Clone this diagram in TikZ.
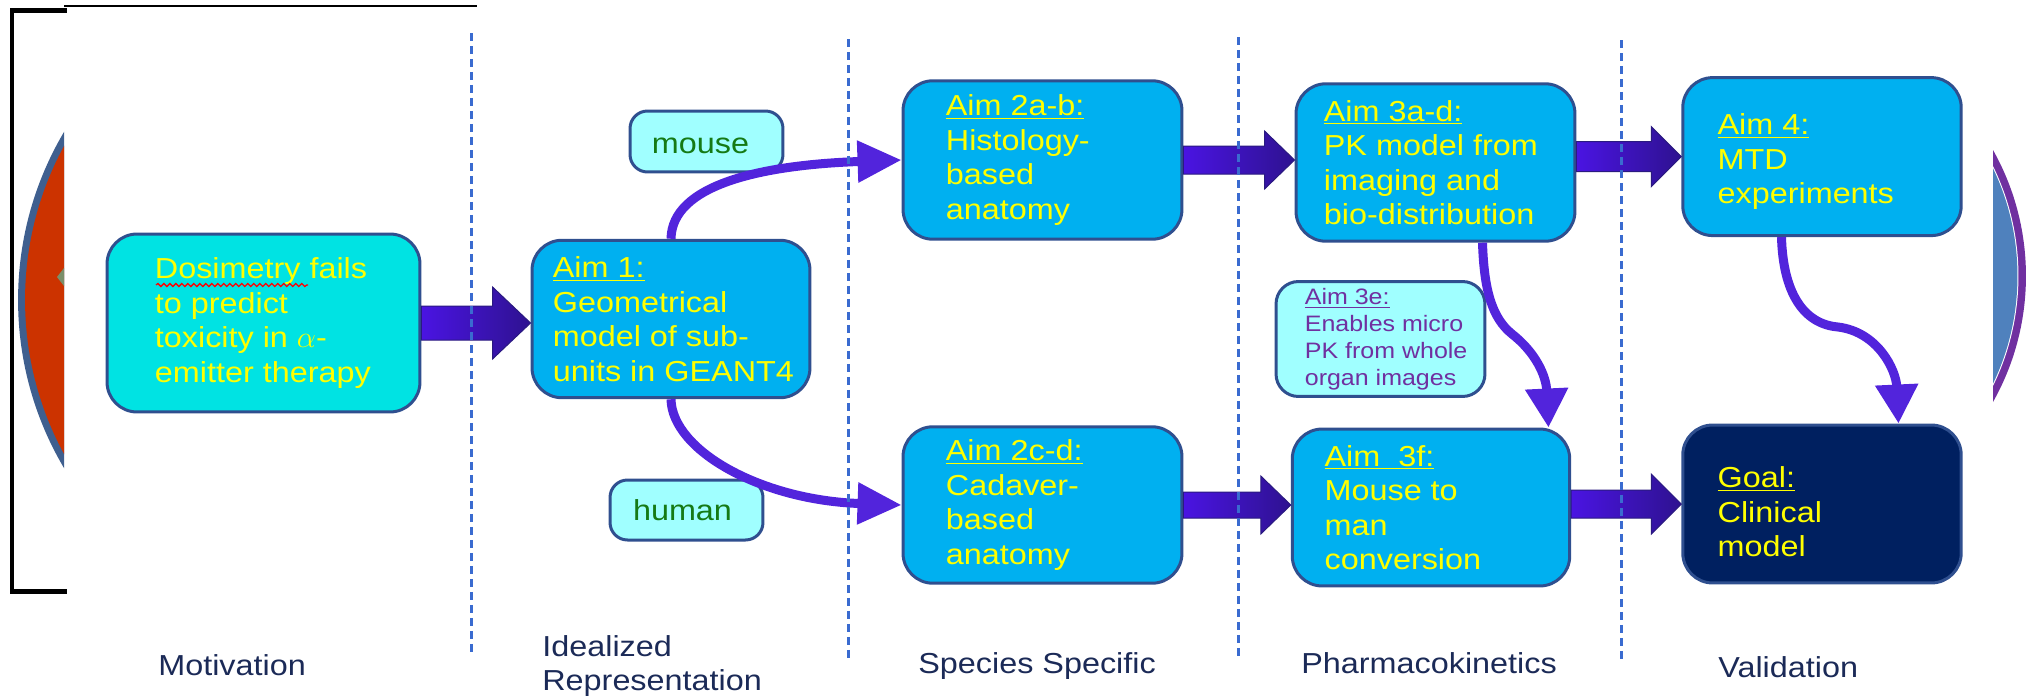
\documentclass[tikz,border=0pt]{standalone}
\usepackage{fontspec}
\setmainfont[FakeStretch=1.12]{Liberation Sans}
\usetikzlibrary{calc,arrows.meta,decorations.pathmorphing}
\definecolor{boxB}{HTML}{00B0F0}
\definecolor{boxD}{HTML}{2F4F8F}
\definecolor{motF}{HTML}{00E3E3}
\definecolor{lightF}{HTML}{A0FFFF}
\definecolor{goalF}{HTML}{002060}
\definecolor{txtY}{HTML}{FFFF00}
\definecolor{txtG}{HTML}{157A15}
\definecolor{txtP}{HTML}{7030A0}
\definecolor{navy}{HTML}{1B2A57}
\definecolor{arrL}{HTML}{4A14E2}
\definecolor{arrR}{HTML}{2E1290}
\definecolor{arrB}{HTML}{2A1A80}
\definecolor{arrC}{HTML}{5224DC}
\definecolor{dashC}{HTML}{3A6BD0}
\definecolor{redC}{HTML}{CC3300}
\definecolor{ringC}{HTML}{3F5F8F}
\definecolor{purC}{HTML}{7030A0}
\definecolor{blueC}{HTML}{4F81BD}
\definecolor{olive}{HTML}{7A8F6A}
\newcommand\blockarr[5]{%
  \shadedraw[left color=arrL,right color=arrR,draw=arrB,line width=0.02cm]
  ($(#1)+(0,#3)$) -- ($(#2)+(-#5,#3)$) -- ($(#2)+(-#5,#4)$) -- (#2) --
  ($(#2)+(-#5,-#4)$) -- ($(#2)+(-#5,-#3)$) -- ($(#1)+(0,-#3)$) -- cycle;}
\tikzset{
  aimbox/.style={draw=boxD, line width=0.06cm, fill=boxB, rounded corners=0.6cm, inner sep=0pt},
  motbox/.style={aimbox, fill=motF},
  goalbox/.style={aimbox, fill=goalF},
  lightbox/.style={draw=boxD, line width=0.06cm, fill=lightF, rounded corners=0.35cm, inner sep=0pt},
  txt/.style={text=txtY, align=left, inner sep=0pt, anchor=west,
    font=\fontsize{16.45pt}{19.64pt}\selectfont},
  smalltxt/.style={text=txtP, align=left, inner sep=0pt, anchor=west,
    font=\fontsize{12.7pt}{15.37pt}\selectfont},
  lab/.style={text=navy, inner sep=0pt, font=\fontsize{16.45pt}{19.64pt}\selectfont},
  sidelab/.style={text=txtG, font=\fontsize{16.45pt}{19.64pt}\selectfont},
  carr/.style={draw=arrC, line width=0.18cm, -{Triangle[length=0.88cm, width=0.8cm]}},
  varr/.style={draw=arrC, line width=0.18cm, -{Triangle[length=0.78cm, width=0.82cm]}},
  divider/.style={draw=dashC, line width=0.06cm, dash pattern=on 0.16cm off 0.1cm},
}
\begin{document}
\begin{tikzpicture}[x=0.02cm, y=-0.02cm]
\useasboundingbox (0,0) rectangle (2033,700);
% left circle fragment
\begin{scope}
  \clip (0,0) rectangle (64,700);
  \fill[ringC] (348,300) circle (6.6cm);
  \fill[redC] (348,300) circle (6.46cm);
  \fill[olive] (57,277) -- (64,268) -- (64,286) -- cycle;
\end{scope}
% right circle fragment
\begin{scope}
  \clip (1993,0) rectangle (2033,700);
  \fill[purC] (1769,276) circle (5.14cm);
  \fill[white] (1769,276) circle (4.99cm);
  \fill[blueC] (1769,276) circle (4.97cm);
\end{scope}
% bracket
\draw[line width=0.1cm, line cap=rect] (64,10) -- (12,10) -- (12,591) -- (64,591);
\draw[line width=0.04cm] (64,6) -- (477,6);

% boxes
\node[motbox, minimum width=6.26cm, minimum height=3.56cm] (mot) at (263.5,323) {};
\node[aimbox, minimum width=5.56cm, minimum height=3.15cm] (aim1) at (671,319) {};
\node[lightbox, minimum width=3.06cm, minimum height=1.22cm] (mouse) at (706.5,141.5) {};
\node[lightbox, minimum width=3.06cm, minimum height=1.2cm] (human) at (686.5,510) {};
\node[aimbox, minimum width=5.58cm, minimum height=3.17cm] (a2ab) at (1042.5,160) {};
\node[aimbox, minimum width=5.58cm, minimum height=3.13cm] (a2cd) at (1042.5,505) {};
\node[aimbox, minimum width=5.58cm, minimum height=3.15cm] (a3ad) at (1435.5,162.5) {};
\node[lightbox, rounded corners=0.45cm, minimum width=4.18cm, minimum height=2.3cm] (a3e) at (1380.5,339) {};
\node[aimbox, minimum width=5.55cm, minimum height=3.14cm] (a3f) at (1431,507.5) {};
\node[aimbox, minimum width=5.57cm, minimum height=3.16cm] (a4) at (1822,156.6) {};
\node[goalbox, minimum width=5.57cm, minimum height=3.16cm] (goal) at (1822,504) {};

% box texts
\node[txt] (motT) at ($(mot.west)+(49,0)$) {Dosimetry fails\\to predict\\toxicity in $\alpha$-\\emitter therapy};
\node[txt] (aim1T) at ($(aim1.west)+(22,0)$) {\underline{Aim 1:}\\Geometrical\\model of sub-\\units in GEANT4};
\node[txt] (a2abT) at ($(a2ab.west)+(44,0)$) {\underline{Aim 2a-b:}\\Histology-\\based\\anatomy};
\node[txt] (a2cdT) at ($(a2cd.west)+(44,0)$) {\underline{Aim 2c-d:}\\Cadaver-\\based\\anatomy};
\node[txt] (a3adT) at ($(a3ad.west)+(29,0)$) {\underline{Aim 3a-d:}\\PK model from\\imaging and\\bio-distribution};
\node[smalltxt] (a3eT) at ($(a3e.west)+(30,0)$) {\underline{Aim 3e:}\\Enables micro\\PK from whole\\organ images};
\node[txt] (a3fT) at ($(a3f.west)+(33.5,0)$) {\underline{Aim\ \ 3f:}\\Mouse to\\man\\conversion};
\node[txt] (a4T) at ($(a4.west)+(36,5)$) {\underline{Aim 4:}\\MTD\\experiments};
\node[txt] (goalT) at ($(goal.west)+(36,8)$) {\underline{Goal:}\\Clinical\\model};
\node[sidelab] (mouseT) at ($(mouse.center)+(-6,4)$) {mouse};
\node[sidelab] (humanT) at ($(human.center)+(-4,0)$) {human};

% spell-check squiggle
\draw[red, line width=0.025cm, decorate, decoration={snake, amplitude=0.03cm, segment length=0.12cm}] (156,285) -- (308,285);

% block arrows
\coordinate (e1) at (aim1.west |- mot.east);
\coordinate (e2) at (a3ad.west |- a2ab.east);
\coordinate (e3) at (a3ad.east |- a4.west);
\coordinate (e4) at (a3f.west |- a2cd.east);
\coordinate (e5) at (a3f.east |- goal.west);
\blockarr{mot.east}{e1}{17}{36}{38}
\blockarr{a2ab.east}{e2}{14}{29}{30}
\blockarr{e3}{a4.west}{15}{30}{30}
\blockarr{a2cd.east}{e4}{13}{29}{30}
\blockarr{e5}{goal.west}{14}{30}{30}

% curved arrows
\draw[carr] (aim1.north) .. controls (672,185) and (760,165) .. (a2ab.west);
\draw[carr] (aim1.south) .. controls (672,450) and (760,500) .. (a2cd.west);
\coordinate (c1) at ($(a3ad.south)+(47,0)$);
\coordinate (c2) at ($(a3f.north)+(117.5,0)$);
\draw[varr] (c1) .. controls (1484,290) and (1492,318) .. (1512,334)
               .. controls (1535,352) and (1546,375) .. (c2);
\coordinate (c3) at ($(a4.south)+(-40.5,0)$);
\coordinate (c4) at ($(goal.north)+(76.5,0)$);
\draw[varr] (c3) .. controls (1783,292) and (1803,324) .. (1838,327)
               .. controls (1878,332) and (1896,370) .. (c4);

% dividers
\coordinate (d1a) at (471,33);  \coordinate (d1b) at (471,652);
\coordinate (d2a) at (848,39);  \coordinate (d2b) at (848,658);
\coordinate (d3a) at (1238,37); \coordinate (d3b) at (1238,657);
\coordinate (d4a) at (1621,40); \coordinate (d4b) at (1621,660);
\draw[divider] (d1a) -- (d1b);
\draw[divider] (d2a) -- (d2b);
\draw[divider] (d3a) -- (d3b);
\draw[divider] (d4a) -- (d4b);

% column labels
\node[lab, anchor=base west] (l1) at (158,675) {Motivation};
\node[lab, anchor=west, align=left] (l2) at (542,666) {Idealized\\Representation};
\node[lab, anchor=base west] (l3) at (918,673) {Species Specific};
\node[lab, anchor=base west] (l4) at (1301,673) {Pharmacokinetics};
\node[lab, anchor=base west] (l5) at (1718,677) {Validation};
\end{tikzpicture}
\end{document}
